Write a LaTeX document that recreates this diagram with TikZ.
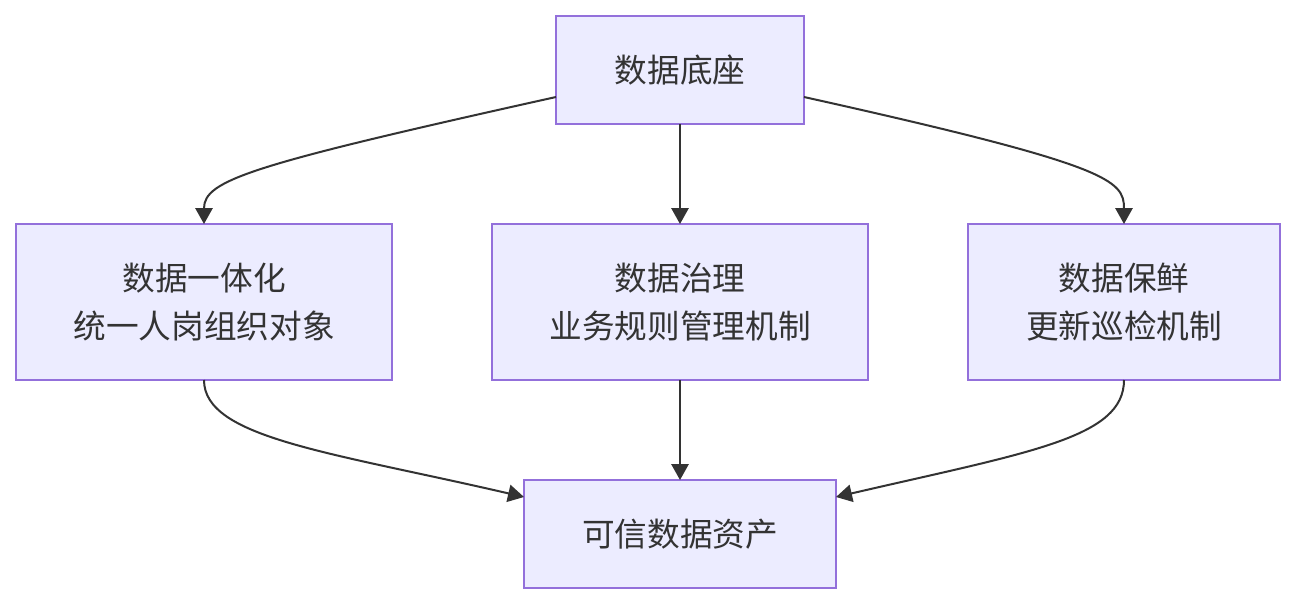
\documentclass[tikz,border=0pt]{standalone}
\usepackage{fontspec}
\setmainfont{Noto Sans CJK SC}
\usetikzlibrary{arrows.meta,calc}
\definecolor{boxfill}{HTML}{ECECFF}
\definecolor{boxline}{HTML}{9370DB}
\definecolor{ink}{HTML}{333333}
\tikzset{
  box/.style={draw=boxline, fill=boxfill, line width=1.5pt, inner sep=0pt, outer sep=0pt,
    text=ink, align=center, font=\fontsize{24.5pt}{36pt}\selectfont},
  link/.style={draw=ink, line width=1.5pt, -{Triangle[length=12pt,width=13pt]}}
}
\begin{document}
\begin{tikzpicture}[x=0.75pt,y=-0.75pt]
\fill[white] (0,0) rectangle (1296,604);
\useasboundingbox (0,0) rectangle (1296,604);
\node[box, minimum width=186pt, minimum height=81pt] (top) at (680,70) {数据底座};
\node[box, minimum width=282pt, minimum height=117pt] (left) at (204,302) {数据一体化\\统一人岗组织对象};
\node[box, minimum width=282pt, minimum height=117pt] (mid) at (680,302) {数据治理\\业务规则管理机制};
\node[box, minimum width=234pt, minimum height=117pt] (right) at (1124,302) {数据保鲜\\更新巡检机制};
\node[box, minimum width=234pt, minimum height=81pt] (bot) at (680,534) {可信数据资产};
\draw[link] ($(top.west)+(0,27)$) .. controls (250,165) and (204,180) .. (left.north);
\draw[link] (top.south) -- (mid.north);
\draw[link] ($(top.east)+(0,27)$) .. controls (1110,165) and (1124,180) .. (right.north);
\draw[link] (left.south) .. controls (204,438) and (330,452) .. ($(bot.north west)+(0,17)$);
\draw[link] (mid.south) -- (bot.north);
\draw[link] (right.south) .. controls (1124,438) and (1030,452) .. ($(bot.north east)+(0,17)$);
\end{tikzpicture}
\end{document}
